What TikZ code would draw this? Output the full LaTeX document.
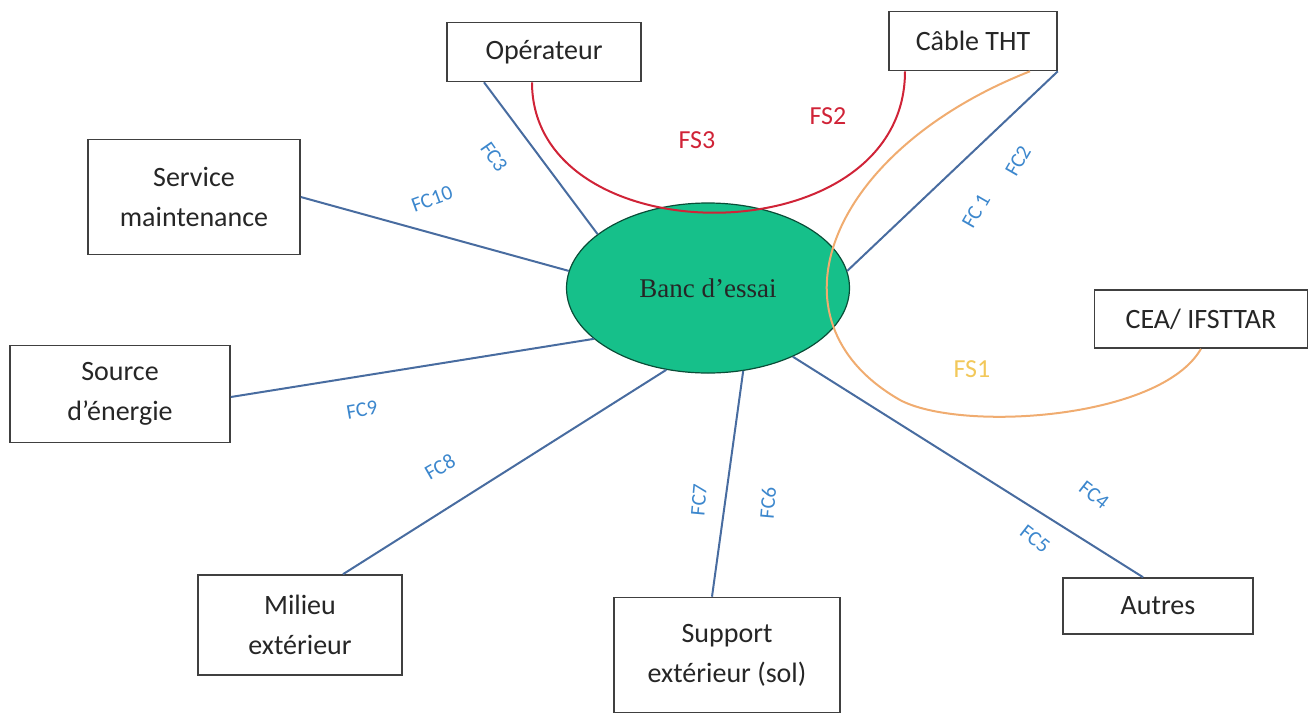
\documentclass[tikz,border=0pt]{standalone}
\usepackage{fontspec}
\setmainfont{Carlito}
\newfontfamily\seriffont{Liberation Serif}
\usetikzlibrary{shapes.geometric}

\definecolor{lienbleu}{RGB}{72,108,160}
\definecolor{textebleu}{RGB}{60,135,205}
\definecolor{rougefs}{RGB}{208,35,55}
\definecolor{orangefs}{RGB}{240,172,112}
\definecolor{jaunefs}{RGB}{242,200,90}
\definecolor{vertbanc}{RGB}{22,192,138}

\tikzset{
  boite/.style={draw=black!75, line width=1.6pt, fill=white, align=center,
    text=black!85, inner sep=0pt, font=\fontsize{28}{40}\selectfont},
  lien/.style={draw=lienbleu, line width=2pt},
  etiq/.style={text=textebleu, inner sep=0.5pt, font=\fontsize{21}{24}\selectfont},
  etiqfs/.style={font=\fontsize{26}{30}\selectfont}
}

\begin{document}
\begin{tikzpicture}[x=1pt, y=-1pt]
        \useasboundingbox (0,0) rectangle (1310,713);

        % Bloc central
        \node[ellipse, draw=black!60!vertbanc, line width=1.2pt, fill=vertbanc,
              minimum width=283pt, minimum height=170pt, inner sep=0pt,
              font=\seriffont\fontsize{27}{30}\selectfont, text=black!85] (banc) at (708,288) {Banc d’essai};

        % Elements du milieu exterieur
        \node[boite, minimum width=194pt, minimum height=59pt] (op) at (544,52) {Opérateur};
        \node[boite, minimum width=168pt, minimum height=59pt] (cable) at (973,41) {Câble THT};
        \node[boite, minimum width=212pt, minimum height=115pt] (maint) at (194,197) {Service\\maintenance};
        \node[boite, minimum width=220pt, minimum height=97pt] (source) at (120,394) {Source\\d’énergie};
        \node[boite, minimum width=213pt, minimum height=58pt] (cea) at (1201,319) {CEA/ IFSTTAR};
        \node[boite, minimum width=204pt, minimum height=100pt] (milieu) at (300,625) {Milieu\\extérieur};
        \node[boite, minimum width=226pt, minimum height=115pt] (sol) at (727,655) {Support\\extérieur (sol)};
        \node[boite, minimum width=190pt, minimum height=56pt] (autres) at (1158,606) {Autres};

        % Fonctions contraintes
        \draw[lien] ([xshift=-60pt]op.south) -- (banc.154.5);
        \draw[lien] (maint.east) -- (banc.173);
        \draw[lien] ([yshift=-3pt]source.east) -- (banc.204.5);
        \draw[lien] ([xshift=43pt]milieu.north) -- (banc.243);
        \draw[lien] ([xshift=-15pt]sol.north) -- (banc.293.5);
        \draw[lien] ([xshift=-15pt]autres.north) -- (banc.321);
        \draw[lien] (cable.south east) -- (banc.7);

        % Fonctions de service
        \draw[rougefs, line width=2pt] ([xshift=-12pt]op.south)
            .. controls (532,258) and (905,258) .. ([xshift=-68pt]cable.south);
        \draw[orangefs, line width=2pt] ([xshift=57pt]cable.south)
            .. controls (830,150) and (760,320) .. (900,400)
            .. controls (960,432) and (1160,420) .. (cea.south);

        % Etiquettes
        \foreach \nom/\x/\y/\ang [count=\i] in {FC3/494/157/-55, FC10/432/199/20,
            FC 1/976/211/60, FC2/1018/161/60, FC9/362/410/10, FC8/440/467/30,
            FC7/699/500/85, FC6/768/503/85, FC4/1094/495/-38, FC5/1035/539/-38}
            \node[etiq, rotate=\ang] (fc\i) at (\x,\y) {\nom};
        \node[etiqfs, text=rougefs] (fs3) at (697,140) {FS3};
        \node[etiqfs, text=rougefs] (fs2) at (828,116) {FS2};
        \node[etiqfs, text=jaunefs] (fs1) at (972,369) {FS1};
    \end{tikzpicture}
\end{document}
